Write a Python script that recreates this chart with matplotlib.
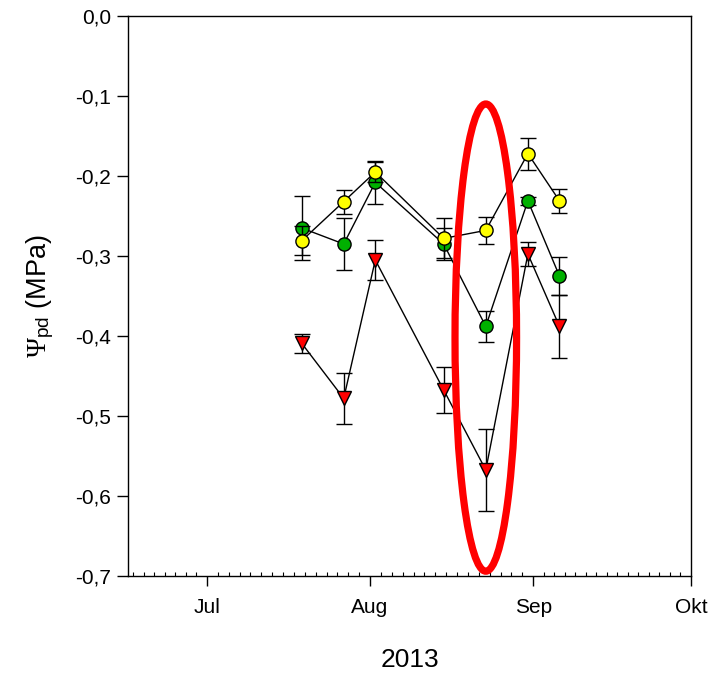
import matplotlib
matplotlib.use("Agg")
import matplotlib.pyplot as plt
import matplotlib.dates as mdates
from matplotlib.patches import Ellipse
from matplotlib.ticker import FixedLocator, FuncFormatter
import datetime as dt

plt.rcParams['font.family'] = ['Liberation Sans', 'DejaVu Sans']
plt.rcParams['mathtext.fontset'] = 'custom'
plt.rcParams['mathtext.rm'] = 'Liberation Serif'
plt.rcParams['mathtext.sf'] = 'Liberation Sans'
plt.rcParams['mathtext.it'] = 'Liberation Serif:italic'

# ---- data ----
dates = ['2013-07-19', '2013-07-27', '2013-08-02', '2013-08-15',
         '2013-08-23', '2013-08-31', '2013-09-06']
yellow = [-0.281, -0.232, -0.195, -0.278, -0.268, -0.172, -0.231]
yellow_err = [0.018, 0.015, 0.013, 0.025, 0.017, 0.020, 0.015]
green = [-0.265, -0.285, -0.208, -0.285, -0.388, -0.231, -0.325]
green_err = [0.040, 0.032, 0.027, 0.020, 0.019, 0.005, 0.024]
red = [-0.409, -0.478, -0.305, -0.4675, -0.5675, -0.2975, -0.388]
red_err = [0.012, 0.032, 0.025, 0.029, 0.051, 0.015, 0.039]

month_ticks = ['2013-07-01', '2013-08-01', '2013-09-01', '2013-10-01']
month_labels = ['Jul', 'Aug', 'Sep', 'Okt']
y_ticks = [0.0, -0.1, -0.2, -0.3, -0.4, -0.5, -0.6, -0.7]
x_start, x_end = '2013-06-16', '2013-10-01'
highlight_date = '2013-08-23'

def d(s):
    return mdates.date2num(dt.datetime.strptime(s, '%Y-%m-%d'))

xs = [d(s) for s in dates]

fig = plt.figure(figsize=(7.12, 6.75), dpi=100)
ax = fig.add_axes([128/712, 99/675, 563/712, 560/675])

common = dict(color='black', lw=1.0, elinewidth=1.0, ecolor='black',
              capsize=5.5, capthick=1.0, markeredgecolor='black',
              markeredgewidth=1.0)
ax.errorbar(xs, red, yerr=red_err, marker='v', ms=10, mfc='#ff0000',
            zorder=3, **common)
ax.errorbar(xs, green, yerr=green_err, marker='o', ms=9.5, mfc='#00b000',
            zorder=4, **common)
ax.errorbar(xs, yellow, yerr=yellow_err, marker='o', ms=9.5, mfc='#ffff00',
            zorder=5, **common)

ell = Ellipse((d(highlight_date), -0.402), width=11.7, height=0.584,
              fill=False, edgecolor='#ff0000', lw=5.2, zorder=10)
ax.add_patch(ell)

ax.set_xlim(d(x_start), d(x_end))
ax.set_ylim(-0.7, 0.0)

ax.set_xticks([d(s) for s in month_ticks])
ax.set_xticklabels(month_labels)
# minor ticks: 15 divisions per month
minors = []
mstarts = ['2013-06-01', '2013-07-01', '2013-08-01', '2013-09-01', '2013-10-01']
for a, b in zip(mstarts[:-1], mstarts[1:]):
    da, db = d(a), d(b)
    for k in range(1, 15):
        v = da + k * (db - da) / 15
        if d(x_start) < v < d(x_end):
            minors.append(v)
ax.xaxis.set_minor_locator(FixedLocator(minors))

ax.set_yticks(y_ticks)
ax.yaxis.set_major_formatter(FuncFormatter(lambda v, p: f"{v:.1f}".replace('.', ',').replace('-0,0', '0,0')))

ax.tick_params(axis='x', which='major', direction='out', length=7, width=1,
               labelsize=15, pad=9)
ax.tick_params(axis='x', which='minor', direction='in', length=3, width=0.8)
ax.tick_params(axis='y', which='major', direction='out', length=8, width=1,
               labelsize=15, pad=4)
for sp in ax.spines.values():
    sp.set_linewidth(1.0)

ax.set_ylabel(r'$\Psi_{\mathsf{pd}}$ (MPa)', fontsize=19.5, labelpad=14)
ax.set_xlabel('2013', fontsize=19, labelpad=22)

fig.savefig('out.png', dpi=100)
